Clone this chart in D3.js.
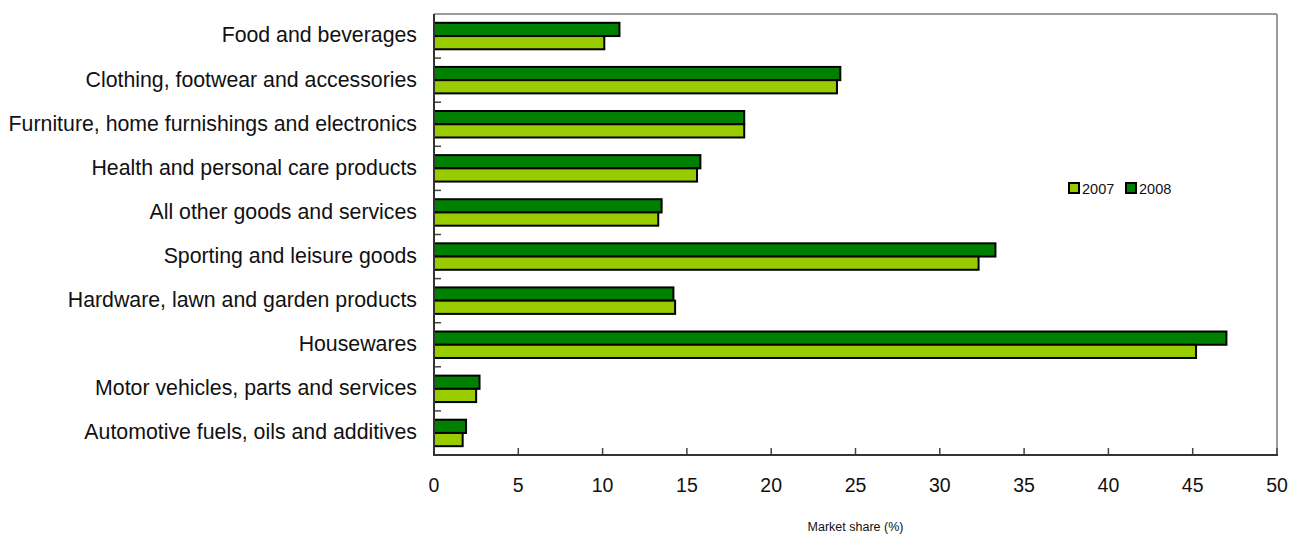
<!DOCTYPE html>
<html>
<head>
<meta charset="utf-8">
<script src="https://cdn.jsdelivr.net/npm/d3@7"></script>
<style>
  html, body { margin: 0; padding: 0; background: #fff; }
  svg { display: block; font-family: "Liberation Sans", Arial, Helvetica, sans-serif; }
</style>
</head>
<body>
<svg id="chart" width="1297" height="544"></svg>
<script>
// Retail categories, top to bottom
const categories = [
  "Food and beverages",
  "Clothing, footwear and accessories",
  "Furniture, home furnishings and electronics",
  "Health and personal care products",
  "All other goods and services",
  "Sporting and leisure goods",
  "Hardware, lawn and garden products",
  "Housewares",
  "Motor vehicles, parts and services",
  "Automotive fuels, oils and additives"
];
const series = ["2008", "2007"];
const values2008 = [11.0, 24.1, 18.4, 15.8, 13.5, 33.3, 14.2, 47.0, 2.7, 1.9];
const values2007 = [10.1, 23.9, 18.4, 15.6, 13.3, 32.3, 14.3, 45.2, 2.5, 1.7];
const xTicks = [0, 5, 10, 15, 20, 25, 30, 35, 40, 45, 50];
const legendItems = ["2007", "2008"];
const axisTitle = "Market share (%)";

const colors = { "2007": "#99cc00", "2008": "#008000" };

const svg = d3.select("#chart");
const plot = { left: 434, right: 1277, top: 14, bottom: 455 };

const x = d3.scaleLinear().domain([0, 50]).range([plot.left, plot.right]);
const y = d3.scaleBand().domain(categories).range([plot.top, plot.bottom])
  .paddingInner(0.4).paddingOuter(0.2);
const ySub = d3.scaleBand().domain(series).range([0, y.bandwidth()]);

const rows = categories.map((c, i) => ({ cat: c, "2008": values2008[i], "2007": values2007[i] }));

// frame: light top/right edges
svg.append("line").attr("x1", plot.left).attr("x2", plot.right)
  .attr("y1", plot.top).attr("y2", plot.top)
  .attr("stroke", "#9a9a9a").attr("stroke-width", 2);
svg.append("line").attr("x1", plot.right).attr("x2", plot.right)
  .attr("y1", plot.top).attr("y2", plot.bottom)
  .attr("stroke", "#9a9a9a").attr("stroke-width", 2);

// bars
const g = svg.append("g");
rows.forEach(r => {
  series.forEach(s => {
    g.append("rect")
      .attr("x", x(0))
      .attr("y", y(r.cat) + ySub(s))
      .attr("width", x(r[s]) - x(0))
      .attr("height", ySub.bandwidth())
      .attr("fill", colors[s])
      .attr("stroke", "#000")
      .attr("stroke-width", 2);
  });
});

// category ticks at band boundaries (pointing inward)
const boundaries = d3.range(1, categories.length).map(k => plot.top + k * (plot.bottom - plot.top) / categories.length);
svg.append("g").selectAll("line").data(boundaries).join("line")
  .attr("x1", plot.left).attr("x2", plot.left + 7)
  .attr("y1", d => d).attr("y2", d => d)
  .attr("stroke", "#444").attr("stroke-width", 1.5);

// category labels
svg.append("g").selectAll("text").data(categories).join("text")
  .attr("x", 417)
  .attr("y", d => y(d) + y.bandwidth() / 2)
  .attr("dy", "0.3em")
  .attr("text-anchor", "end")
  .attr("font-size", 21.3)
  .attr("fill", "#111")
  .text(d => d);

// x axis ticks (pointing up) and labels
svg.append("g").selectAll("line").data(xTicks).join("line")
  .attr("x1", d => x(d)).attr("x2", d => x(d))
  .attr("y1", plot.bottom).attr("y2", plot.bottom - 7)
  .attr("stroke", "#444").attr("stroke-width", 1.5);
svg.append("g").selectAll("text").data(xTicks).join("text")
  .attr("x", d => x(d))
  .attr("y", 492)
  .attr("text-anchor", "middle")
  .attr("font-size", 19.5)
  .attr("fill", "#111")
  .text(d => d);

// left and bottom axis lines
svg.append("line").attr("x1", plot.left).attr("x2", plot.left)
  .attr("y1", plot.top).attr("y2", plot.bottom)
  .attr("stroke", "#333").attr("stroke-width", 2);
svg.append("line").attr("x1", plot.left - 1).attr("x2", plot.right + 1)
  .attr("y1", plot.bottom).attr("y2", plot.bottom)
  .attr("stroke", "#333").attr("stroke-width", 2);

// axis title
svg.append("text")
  .attr("x", (plot.left + plot.right) / 2)
  .attr("y", 531)
  .attr("text-anchor", "middle")
  .attr("font-size", 12.5)
  .attr("fill", "#111")
  .text(axisTitle);

// legend
const legend = svg.append("g");
const legendX = [1069, 1126];
legendItems.forEach((s, i) => {
  legend.append("rect")
    .attr("x", legendX[i]).attr("y", 183)
    .attr("width", 10).attr("height", 10)
    .attr("fill", colors[s]).attr("stroke", "#000").attr("stroke-width", 2);
  legend.append("text")
    .attr("x", legendX[i] + 13).attr("y", 194)
    .attr("font-size", 14.5)
    .attr("fill", "#111")
    .text(s);
});
</script>
</body>
</html>
